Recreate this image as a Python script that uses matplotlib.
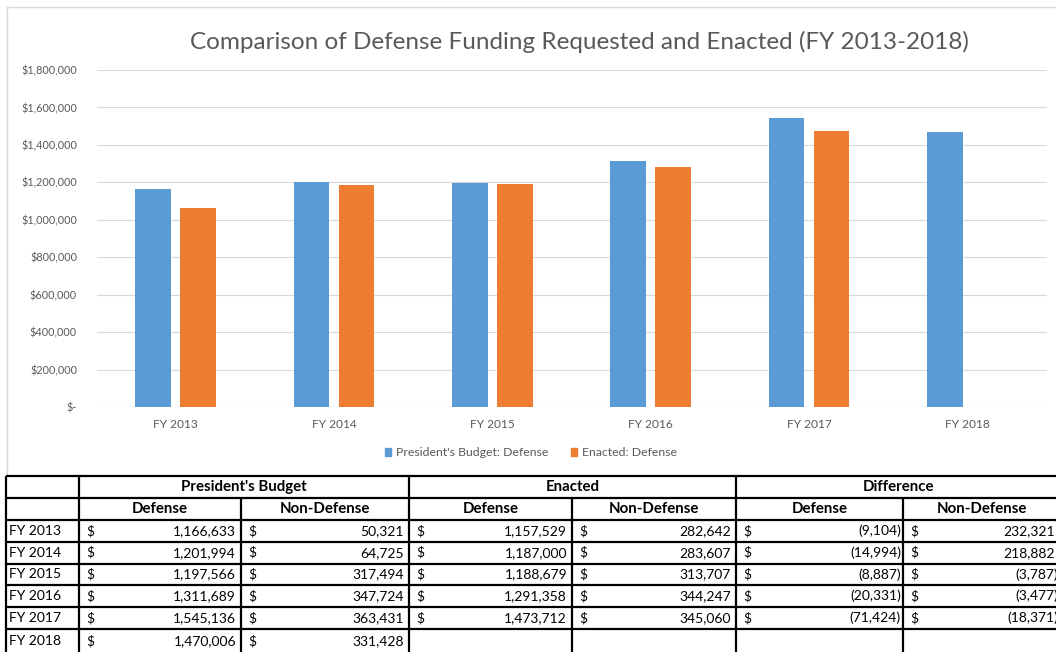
import matplotlib.pyplot as plt
import matplotlib.patches as mpatches

plt.rcParams['font.family'] = ['Lato', 'DejaVu Sans']

years = ['FY 2013', 'FY 2014', 'FY 2015', 'FY 2016', 'FY 2017', 'FY 2018']

# bar heights as drawn in the chart
bar_president = [1166633, 1201994, 1197566, 1311689, 1545136, 1470006]
bar_enacted = [1062000, 1187000, 1188679, 1284000, 1473712]

# table values
pb_def = [1166633, 1201994, 1197566, 1311689, 1545136, 1470006]
pb_nondef = [50321, 64725, 317494, 347724, 363431, 331428]
en_def = [1157529, 1187000, 1188679, 1291358, 1473712, None]
en_nondef = [282642, 283607, 313707, 344247, 345060, None]
diff_def = [-9104, -14994, -8887, -20331, -71424, None]
diff_nondef = [232321, 218882, -3787, -3477, -18371, None]

BLUE = '#5B9BD5'
ORANGE = '#ED7D31'
GREY = '#595959'

W, H = 1056, 652
fig = plt.figure(figsize=(W / 100, H / 100), dpi=100)
fig.patch.set_facecolor('white')

# ---- chart ----
ax = fig.add_axes([96.5 / W, 1 - 407 / H, 950 / W, 337 / H])
x = list(range(len(years)))
bw = 0.227
off = 0.142
ax.bar([i - off for i in x], bar_president, bw, color=BLUE, zorder=3,
       label="President's Budget: Defense")
ax.bar([i + off for i in range(len(bar_enacted))], bar_enacted, bw, color=ORANGE,
       zorder=3, label='Enacted: Defense')
ax.set_xlim(-0.5, 5.5)
ax.set_ylim(0, 1800000)
ticks = list(range(0, 1800001, 200000))
ax.set_yticks(ticks)
ax.set_yticklabels(['$-'] + [f'${t:,.0f}' for t in ticks[1:]])
ax.set_xticks(x)
ax.set_xticklabels(years)
ax.tick_params(length=0, colors=GREY)
ax.tick_params(axis='y', pad=14, labelsize=7.8)
ax.tick_params(axis='x', pad=9, labelsize=8.6)
for s in ax.spines.values():
    s.set_visible(False)
ax.grid(axis='y', color='#D9D9D9', linewidth=0.8, zorder=0)
ax.set_axisbelow(True)

fig.text(579 / W, 1 - 42 / H, 'Comparison of Defense Funding Requested and Enacted (FY 2013-2018)',
         ha='center', va='center', fontsize=17.5, color=GREY)

handles = [mpatches.Patch(color=BLUE), mpatches.Patch(color=ORANGE)]
fig.legend(handles, ["President's Budget: Defense", 'Enacted: Defense'],
           loc='center', bbox_to_anchor=(531 / W, 1 - 453 / H), ncol=2, frameon=False,
           fontsize=8.8, labelcolor=GREY, handlelength=0.55, handleheight=0.55,
           handletextpad=0.4, columnspacing=1.8)

# ---- table (pixel coordinates) ----
tab = fig.add_axes([0, 0, 1, 1])
tab.set_xlim(0, W)
tab.set_ylim(H, 0)
tab.axis('off')
tab.patch.set_alpha(0)

# chart frame
tab.plot([7, 7], [7, 476], color='#D9D9D9', lw=1)
tab.plot([7, W], [7, 7], color='#D9D9D9', lw=1)

cols = [6, 79, 241, 409, 572, 736, 903, 1060]
rows = [476, 498, 520, 542, 563.5, 585, 607, 629, 660]
lw = 1.6

for yy in rows[:-1]:
    tab.plot([cols[0], cols[-1]], [yy, yy], color='black', lw=lw, solid_capstyle='butt')
for i, xx in enumerate(cols):
    y0 = rows[1] if i in (2, 4, 6) else rows[0]
    tab.plot([xx, xx], [y0, H + 5], color='black', lw=lw, solid_capstyle='butt')

fs = 10
hfs = 10.8
groups = ["President's Budget", 'Enacted', 'Difference']
for g, name in enumerate(groups):
    cx = (cols[1 + 2 * g] + cols[3 + 2 * g]) / 2
    tab.text(cx, (rows[0] + rows[1]) / 2, name, ha='center', va='center',
             fontsize=hfs, fontweight='bold')
    for k, sub in enumerate(['Defense', 'Non-Defense']):
        cx = (cols[1 + 2 * g + k] + cols[2 + 2 * g + k]) / 2
        tab.text(cx, (rows[1] + rows[2]) / 2, sub, ha='center', va='center',
                 fontsize=hfs, fontweight='bold')


def fmt(v):
    if v < 0:
        return f'({-v:,})'
    return f'{v:,}'


table_cols = [pb_def, pb_nondef, en_def, en_nondef, diff_def, diff_nondef]
for r, yr in enumerate(years):
    yc = (rows[2 + r] + rows[3 + r]) / 2 if r < 5 else 641
    tab.text(cols[0] + 3, yc, yr, ha='left', va='center', fontsize=fs)
    for c, series in enumerate(table_cols):
        v = series[r]
        if v is None:
            continue
        right = cols[2 + c] - (2 if v < 0 else 5)
        tab.text(cols[1 + c] + 7, yc, '$', ha='left', va='center', fontsize=fs)
        tab.text(right, yc, fmt(v), ha='right', va='center', fontsize=fs)

fig.savefig('out.png', dpi=100, facecolor='white')
